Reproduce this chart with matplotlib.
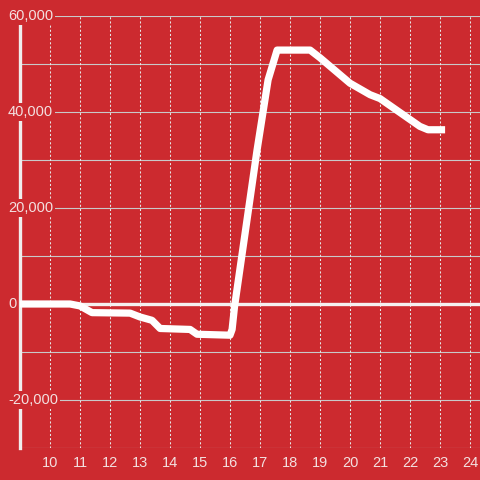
import matplotlib
matplotlib.use("Agg")
import matplotlib.pyplot as plt
import matplotlib.transforms as mtrans

hours = [9.0, 10.67, 11.0, 11.4, 12.67, 13.0, 13.4, 13.67, 14.67, 14.9, 16.0,
         16.07, 16.15, 16.9, 17.27, 17.57, 18.67, 19.0, 20.0, 20.67, 21.0,
         22.33, 22.6, 23.17]
values = [0, 0, -400, -1800, -1900, -2700, -3400, -5100, -5300, -6300, -6500,
          -5300, -600, 32000, 46700, 52900, 52900, 51300, 46000, 43600, 42800,
          37000, 36300, 36300]

x_ticks = list(range(10, 25))
y_ticks = [60000, 40000, 20000, 0, -20000]
y_tick_labels = ["60,000", "40,000", "20,000", "0", "-20,000"]

bg = "#cc2a2f"
txt = "#f3e0e0"

fig = plt.figure(figsize=(4.8, 4.8), dpi=100, facecolor=bg)
ax = fig.add_axes([20 / 480, 32 / 480, 460 / 480, 432 / 480])
ax.set_facecolor(bg)
ax.set_xlim(9, 24 + 1 / 3)
ax.set_ylim(-30000, 60000)

# horizontal grid lines
for yv in range(-30000, 60001, 10000):
    ax.axhline(yv, color="#c9c9c9", lw=0.8, zorder=1)
# vertical dotted grid lines
for xv in x_ticks:
    ax.axvline(xv, color="#e6e6e6", lw=0.75, dashes=(2, 2), zorder=1)

# zero line
ax.axhline(0, color="#f5f0f0", lw=2.4, zorder=2)
# y axis line
ax.axvline(9, color="#f0eded", lw=2.4, zorder=2, clip_on=False)

ax.plot(hours, values, color="white", lw=5.2, solid_joinstyle="round",
        solid_capstyle="butt", zorder=3)

for s in ax.spines.values():
    s.set_visible(False)
ax.set_xticks([])
ax.set_yticks([])

xtr = mtrans.offset_copy(ax.transData, fig=fig, x=0, y=-8, units="dots")
for xv in x_ticks:
    ax.text(xv, -30000, str(xv), transform=xtr, ha="center",
            va="top", fontsize=10.5, family="Liberation Sans", color=txt,
            clip_on=False)

ytr = mtrans.blended_transform_factory(fig.transFigure, ax.transData)
for yv, lab in zip(y_ticks, y_tick_labels):
    ax.text(8 / 480, yv, lab, transform=ytr,
            ha="left", va="center", fontsize=10.5, family="Liberation Sans",
            color=txt, zorder=10, clip_on=False,
            bbox=dict(facecolor=bg, edgecolor="none", pad=1.5))

fig.savefig("out.png", dpi=100, facecolor=bg)
